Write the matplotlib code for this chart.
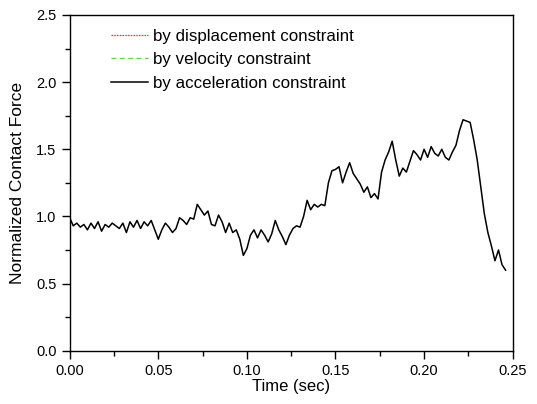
import numpy as np
import matplotlib
matplotlib.use("Agg")
import matplotlib.pyplot as plt
from matplotlib.ticker import MultipleLocator

plt.rcParams['font.family'] = ['Liberation Sans', 'DejaVu Sans']

dt = 0.002
force = [
    0.99, 0.93, 0.95, 0.92, 0.94, 0.90, 0.95, 0.91, 0.96, 0.89,
    0.94, 0.92, 0.95, 0.93, 0.91, 0.95, 0.88, 0.96, 0.92, 0.97,
    0.91, 0.96, 0.93, 0.97, 0.90, 0.83, 0.90, 0.95, 0.92, 0.88,
    0.91, 0.99, 0.97, 0.94, 0.99, 0.98, 1.09, 1.05, 1.01, 1.04,
    0.94, 0.93, 1.01, 0.96, 0.88, 0.95, 0.88, 0.90, 0.83, 0.71,
    0.76, 0.86, 0.90, 0.84, 0.90, 0.86, 0.81, 0.87, 0.97, 0.90,
    0.85, 0.79, 0.86, 0.91, 0.93, 0.92, 1.00, 1.12, 1.05, 1.09,
    1.07, 1.09, 1.08, 1.25, 1.34, 1.35, 1.37, 1.25, 1.33, 1.40,
    1.32, 1.28, 1.24, 1.18, 1.22, 1.14, 1.17, 1.13, 1.33, 1.42,
    1.48, 1.56, 1.42, 1.30, 1.36, 1.33, 1.41, 1.49, 1.46, 1.42,
    1.50, 1.44, 1.52, 1.47, 1.45, 1.50, 1.44, 1.42, 1.48, 1.53,
    1.64, 1.72, 1.71, 1.70, 1.57, 1.42, 1.22, 1.02, 0.88, 0.78,
    0.67, 0.75, 0.64, 0.60,
]
time = np.arange(len(force)) * dt

labels = ["by displacement constraint", "by velocity constraint",
          "by acceleration constraint"]

fig = plt.figure(figsize=(5.37, 4.04), dpi=100)
ax = fig.add_axes([0.1298, 0.1319, 0.8249, 0.8310])

# only the acceleration curve is visible in the reference
ax.plot([], [], color="#ff3300", ls=(0, (1.2, 1.0)), lw=0.9, label=labels[0])
ax.plot([], [], color="#77cc55", ls=(0, (3.5, 2.5)), lw=1.0, label=labels[1])
ax.plot(time, force, color="black", lw=1.1, label=labels[2])

ax.set_xlim(0, 0.25)
ax.set_ylim(0, 2.5)
ax.xaxis.set_major_locator(MultipleLocator(0.05))
ax.xaxis.set_minor_locator(MultipleLocator(0.025))
ax.yaxis.set_major_locator(MultipleLocator(0.5))
ax.yaxis.set_minor_locator(MultipleLocator(0.25))
ax.xaxis.set_major_formatter(plt.FormatStrFormatter("%.2f"))
ax.yaxis.set_major_formatter(plt.FormatStrFormatter("%.1f"))
ax.tick_params(which="major", direction="out", length=6, width=1.0,
               labelsize=10.5, top=False, right=False)
ax.tick_params(which="minor", direction="out", length=3.5, width=1.0,
               top=False, right=False)
for s in ax.spines.values():
    s.set_linewidth(1.0)

ax.set_xlabel("Time (sec)", fontsize=12, labelpad=1)
ax.set_ylabel("Normalized Contact Force", fontsize=12.5, labelpad=8)

ax.legend(loc="upper left", bbox_to_anchor=(0.058, 1.005), frameon=False,
          fontsize=12.2, handlelength=2.2, handletextpad=0.3,
          labelspacing=0.5)

fig.savefig("out.png", dpi=100)
